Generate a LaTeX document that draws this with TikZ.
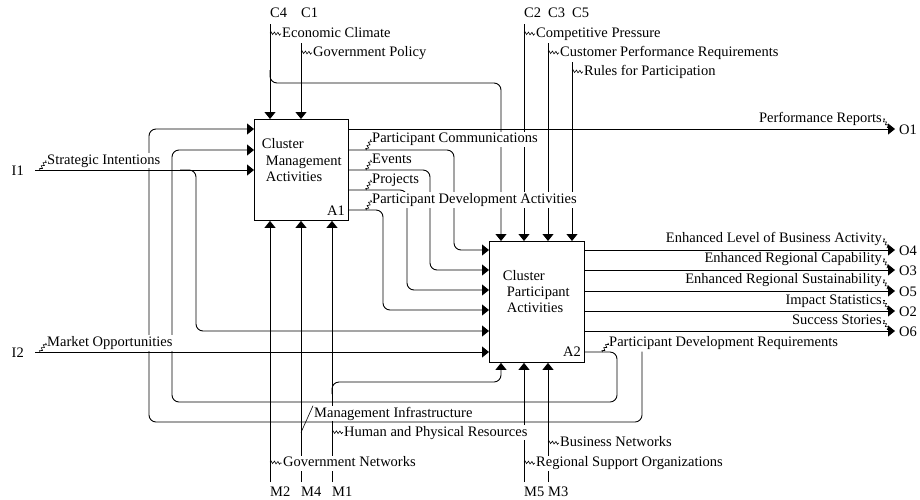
\documentclass[tikz,border=0pt]{standalone}
\usepackage{fontspec}
\setmainfont{Liberation Serif}
\usetikzlibrary{arrows.meta,decorations.pathmorphing,calc}
\begin{document}
\begin{tikzpicture}[x=1pt,y=-1pt,
  every node/.style={font=\fontsize{14.5}{16}\selectfont, inner sep=0pt},
  box/.style={draw, line width=0.9pt, fill=white},
  wire/.style={line width=0.9pt, rounded corners=7pt},
  arr/.style={wire, -{Triangle[length=7pt,width=11pt]}},
  lbl/.style={fill=white, inner xsep=1pt, inner ysep=0.8pt, text height=10.3pt, text depth=3.2pt},
  squig/.style={line width=0.6pt, decorate, decoration={zigzag, segment length=3.5pt, amplitude=1.3pt}},
  lead/.style={line width=0.6pt}]
\useasboundingbox (0,0) rectangle (920,499);

% ---- boxes
\node[box, minimum width=94pt, minimum height=101pt, anchor=north west] (A1) at (254,119) {};
\node[box, minimum width=95pt, minimum height=121pt, anchor=north west] (A2) at (489,241) {};

% ---- coordinates
\coordinate (C4s) at (270,24);
\coordinate (C4b) at (270,70);
\coordinate (C4k) at (501,83);
\coordinate (C1s) at (301,43);
\coordinate (C2s) at (524,24);
\coordinate (C3s) at (548,43);
\coordinate (C5s) at (572,62);
\coordinate (I1s) at (35,170);
\coordinate (I1b) at (180,170);
\coordinate (I1k) at (196,331);
\coordinate (I2s) at (35,352);
\coordinate (O1e) at (895,129);
\coordinate (pc) at (454,150);  \coordinate (pc2) at (454,250);
\coordinate (ev) at (430,170);  \coordinate (ev2) at (430,270);
\coordinate (pj) at (407,190);  \coordinate (pj2) at (407,290);
\coordinate (pd) at (383,210);  \coordinate (pd2) at (383,310);
\coordinate (O4e) at (895,250);
\coordinate (O3e) at (895,270);
\coordinate (O5e) at (895,291);
\coordinate (O2e) at (895,311);
\coordinate (O6e) at (895,331);
\coordinate (fb1) at (617,352);
\coordinate (P1) at (617,402);
\coordinate (P2) at (172,150);
\coordinate (fb2s) at (642,351.5);
\coordinate (Q1) at (149,422);
\coordinate (Q2) at (149,129);
\coordinate (M2e) at (270,482);
\coordinate (M4e) at (301,482);
\coordinate (M1e) at (332,482);
\coordinate (M1b) at (332,394);
\coordinate (M1k) at (501,382);
\coordinate (M5e) at (524,482);
\coordinate (M3e) at (548,482);

% ---- controls
\draw[arr] (C4s) -- (C4s |- A1.north);
\draw[arr] (C4b) |- (C4k) -- (C4k |- A2.north);
\draw[arr] (C1s) -- (C1s |- A1.north);
\draw[arr] (C2s) -- (C2s |- A2.north);
\draw[arr] (C3s) -- (C3s |- A2.north);
\draw[arr] (C5s) -- (C5s |- A2.north);

% ---- inputs
\draw[arr] (I1s) -- (I1s -| A1.west);
\draw[arr] (I1b) -| (I1k) -- (I1k -| A2.west);
\draw[arr] (I2s) -- (I2s -| A2.west);

% ---- A1 outputs
\draw[arr] (O1e -| A1.east) -- (O1e);
\draw[arr] (pc -| A1.east) -| (pc2) -- (pc2 -| A2.west);
\draw[arr] (ev -| A1.east) -| (ev2) -- (ev2 -| A2.west);
\draw[arr] (pj -| A1.east) -| (pj2) -- (pj2 -| A2.west);
\draw[arr] (pd -| A1.east) -| (pd2) -- (pd2 -| A2.west);

% ---- A2 outputs
\draw[arr] (O4e -| A2.east) -- (O4e);
\draw[arr] (O3e -| A2.east) -- (O3e);
\draw[arr] (O5e -| A2.east) -- (O5e);
\draw[arr] (O2e -| A2.east) -- (O2e);
\draw[arr] (O6e -| A2.east) -- (O6e);

% ---- feedback loops
\draw[arr] (fb1 -| A2.east) -| (P1) -| (P2) -- (P2 -| A1.west);
\draw[arr] (fb2s) |- (Q1) -- (Q2) -- (Q2 -| A1.west);

% ---- mechanisms
\draw[arr] (M2e) -- (M2e |- A1.south);
\draw[arr] (M4e) -- (M4e |- A1.south);
\draw[arr] (M1e) -- (M1e |- A1.south);
\draw[arr] (M1b) |- (M1k) -- (M1k |- A2.south);
\draw[arr] (M5e) -- (M5e |- A2.south);
\draw[arr] (M3e) -- (M3e |- A2.south);

% ---- box texts
\node[anchor=base west] (A1t1) at (261.7,148.3) {Cluster};
\node[anchor=base west] (A1t2) at (265.7,165) {Management};
\node[anchor=base west] (A1t3) at (265.7,181) {Activities};
\node[anchor=base east] (A1id) at (345,215) {A1};
\node[anchor=base west] (A2t1) at (502.7,280) {Cluster};
\node[anchor=base west] (A2t2) at (506.7,296) {Participant};
\node[anchor=base west] (A2t3) at (506.7,312.5) {Activities};
\node[anchor=base east] (A2id) at (581,356) {A2};

% ---- ICOM codes
\node[anchor=base west] (tC4) at (270,17.5) {C4};
\node[anchor=base west] (tC1) at (301,17.5) {C1};
\node[anchor=base west] (tC2) at (524,17.5) {C2};
\node[anchor=base west] (tC3) at (548,17.5) {C3};
\node[anchor=base west] (tC5) at (572,17.5) {C5};
\node[anchor=base west] (tM2) at (270,496) {M2};
\node[anchor=base west] (tM4) at (301,496) {M4};
\node[anchor=base west] (tM1) at (332,496) {M1};
\node[anchor=base west] (tM5) at (524,496) {M5};
\node[anchor=base west] (tM3) at (548,496) {M3};
\node[anchor=base west] (tI1) at (11.5,175) {I1};
\node[anchor=base west] (tI2) at (11.5,357) {I2};
\node[anchor=base west] (tO1) at (899,134.5) {O1};
\node[anchor=base west] (tO4) at (899,255.5) {O4};
\node[anchor=base west] (tO3) at (899,275.5) {O3};
\node[anchor=base west] (tO5) at (899,296.5) {O5};
\node[anchor=base west] (tO2) at (899,316.5) {O2};
\node[anchor=base west] (tO6) at (899,336.5) {O6};

% ---- arrow labels
\node[lbl, anchor=base west] (lEC) at (281,37.5) {Economic Climate};
\node[lbl, anchor=base west] (lGP) at (312,56.5) {Government Policy};
\node[lbl, anchor=base west] (lCP) at (535,37.5) {Competitive Pressure};
\node[lbl, anchor=base west] (lCPR) at (559,56.5) {Customer Performance Requirements};
\node[lbl, anchor=base west] (lRP) at (583,75.5) {Rules for Participation};
\node[lbl, anchor=base west] (lSI) at (46,164) {Strategic Intentions};
\node[lbl, anchor=base west] (lMO) at (46,346.5) {Market Opportunities};
\node[lbl, anchor=base west] (lPC) at (371,142.7) {Participant Communications};
\node[lbl, anchor=base west] (lEV) at (371,163.3) {Events};
\node[lbl, anchor=base west] (lPJ) at (371,183.3) {Projects};
\node[lbl, anchor=base west] (lPDA) at (371,203.5) {Participant Development Activities};
\node[lbl, anchor=base east] (lPR) at (883,122.5) {Performance Reports};
\node[lbl, anchor=base east] (lO4) at (883,242.5) {Enhanced Level of Business Activity};
\node[lbl, anchor=base east] (lO3) at (883,262.5) {Enhanced Regional Capability};
\node[lbl, anchor=base east] (lO5) at (883,283.5) {Enhanced Regional Sustainability};
\node[lbl, anchor=base east] (lO2) at (883,304) {Impact Statistics};
\node[lbl, anchor=base east] (lO6) at (883,324.3) {Success Stories};
\node[lbl, anchor=base west] (lPDR) at (608,346.5) {Participant Development Requirements};
\node[lbl, anchor=base west] (lMI) at (313,417) {Management Infrastructure};
\node[lbl, anchor=base west] (lHPR) at (343,436) {Human and Physical Resources};
\node[lbl, anchor=base west] (lGN) at (282,466.7) {Government Networks};
\node[lbl, anchor=base west] (lBN) at (559,446.7) {Business Networks};
\node[lbl, anchor=base west] (lRSO) at (535,466.7) {Regional Support Organizations};

% ---- leader attach points
\coordinate (sEC) at (270,33);
\coordinate (sGP) at (301,52);
\coordinate (sCP) at (524,33);
\coordinate (sCPR) at (548,52);
\coordinate (sRP) at (572,71);
\coordinate (sSI) at (40,170);
\coordinate (sMO) at (40,352);
\coordinate (sPC) at (366.5,150);
\coordinate (sEV) at (366.5,170);
\coordinate (sPJ) at (366.5,190);
\coordinate (sPDA) at (366.5,210);
\coordinate (sPR) at (889.5,128.5);
\coordinate (sO4) at (889.5,249.5);
\coordinate (sO3) at (889.5,269.5);
\coordinate (sO5) at (889.5,290.5);
\coordinate (sO2) at (889.5,310.5);
\coordinate (sO6) at (889.5,330.5);
\coordinate (sPDR) at (602.5,352);
\coordinate (sMI) at (301,432.5);
\coordinate (sHPR) at (332,432);
\coordinate (sGN) at (270,462);
\coordinate (sBN) at (548,442);
\coordinate (sRSO) at (524,462);

% ---- leaders
\draw[squig] (sEC) -- (lEC.west);
\draw[squig] (sGP) -- (lGP.west);
\draw[squig] (sCP) -- (lCP.west);
\draw[squig] (sCPR) -- (lCPR.west);
\draw[squig] (sRP) -- (lRP.west);
\draw[squig] (sSI) -- (lSI.west);
\draw[squig] (sMO) -- (lMO.west);
\draw[squig] (sPC) -- (lPC.west);
\draw[squig] (sEV) -- (lEV.west);
\draw[squig] (sPJ) -- (lPJ.west);
\draw[squig] (sPDA) -- (lPDA.west);
\draw[squig] (lPR.east) -- (sPR);
\draw[squig] (lO4.east) -- (sO4);
\draw[squig] (lO3.east) -- (sO3);
\draw[squig] (lO5.east) -- (sO5);
\draw[squig] (lO2.east) -- (sO2);
\draw[squig] (lO6.east) -- (sO6);
\draw[squig] (sPDR) -- (lPDR.west);
\draw[lead] (sMI) -- (lMI.north west);
\draw[squig] (sHPR) -- (lHPR.west);
\draw[squig] (sGN) -- (lGN.west);
\draw[squig] (sBN) -- (lBN.west);
\draw[squig] (sRSO) -- (lRSO.west);
\end{tikzpicture}
\end{document}
